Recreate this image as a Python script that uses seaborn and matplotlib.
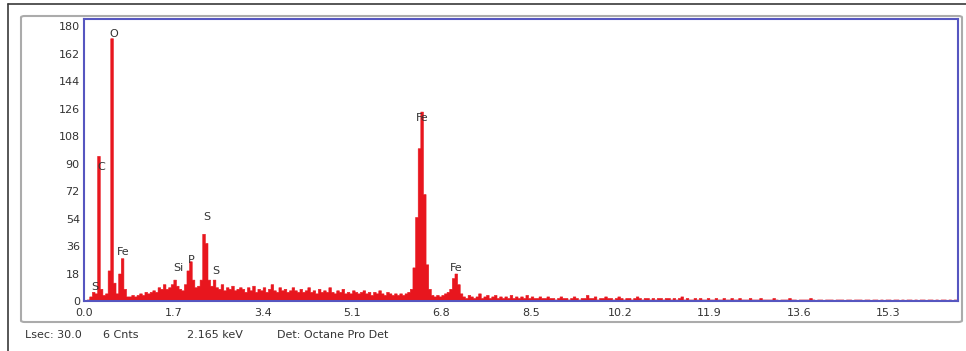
import numpy as np
import pandas as pd
import matplotlib
matplotlib.use("Agg")
import matplotlib.pyplot as plt
from matplotlib.patches import FancyBboxPatch
from matplotlib.lines import Line2D
import seaborn as sns

# EDS spectrum, counts per 0.05 keV channel (one row per keV)
channel_width = 0.05
counts = [
    0, 1, 3, 6, 5, 95, 8, 4, 5, 20, 172, 12, 5, 18, 28, 8, 3, 3, 4, 3,
    4, 5, 4, 6, 5, 6, 7, 6, 9, 8, 11, 8, 9, 11, 14, 10, 8, 7, 11, 20,
    26, 14, 9, 10, 14, 44, 38, 14, 10, 14, 9, 8, 11, 7, 9, 8, 10, 7, 8, 9,
    8, 6, 9, 7, 10, 6, 8, 7, 9, 6, 8, 11, 7, 6, 9, 7, 8, 6, 7, 9,
    7, 6, 8, 6, 7, 9, 6, 7, 5, 8, 6, 7, 6, 9, 6, 5, 7, 6, 8, 5,
    6, 5, 7, 6, 5, 6, 7, 5, 6, 4, 6, 5, 7, 5, 4, 6, 5, 4, 5, 4,
    5, 4, 5, 6, 8, 22, 55, 100, 124, 70, 24, 8, 4, 3, 4, 3, 4, 5, 6, 8,
    15, 18, 11, 5, 3, 2, 4, 3, 2, 3, 5, 2, 3, 4, 2, 3, 4, 2, 3, 2,
    3, 2, 4, 2, 3, 2, 3, 2, 4, 2, 3, 2, 2, 3, 2, 2, 3, 2, 2, 1,
    2, 3, 2, 2, 1, 2, 3, 2, 1, 2, 2, 4, 2, 2, 3, 1, 2, 2, 3, 2,
    2, 1, 2, 3, 2, 1, 2, 2, 1, 2, 3, 2, 1, 2, 2, 1, 2, 1, 2, 2,
    1, 2, 2, 1, 2, 1, 2, 3, 1, 2, 1, 1, 2, 1, 2, 1, 1, 2, 1, 1,
    2, 1, 1, 2, 1, 1, 2, 1, 1, 2, 1, 1, 1, 2, 1, 1, 1, 2, 1, 1,
    1, 1, 2, 1, 0, 1, 1, 1, 2, 1, 1, 0, 1, 1, 1, 1, 2, 1, 0, 1,
    1, 0, 1, 1, 1, 0, 1, 1, 1, 0, 1, 1, 0, 1, 1, 1, 0, 1, 1, 0,
    1, 1, 0, 1, 0, 1, 1, 0, 1, 1, 0, 1, 0, 1, 1, 0, 1, 0, 1, 1,
    0, 1, 1, 0, 1, 0, 1, 1, 0, 1, 0, 1,
]

# element labels and where they sit (keV, counts)
peak_names = ["S", "C", "O", "Fe", "Si", "P", "S", "S", "Fe", "Fe"]
label_xy = [(0.21, 9), (0.32, 88), (0.57, 175), (0.74, 32), (1.79, 21.5),
            (2.05, 27), (2.34, 55), (2.51, 19.5), (6.44, 120), (7.09, 21.5)]

x_ticks = [0.0, 1.7, 3.4, 5.1, 6.8, 8.5, 10.2, 11.9, 13.6, 15.3]
y_ticks = [0, 18, 36, 54, 72, 90, 108, 126, 144, 162, 180]
status = ["Lsec: 30.0", "6 Cnts", "2.165 keV", "Det: Octane Pro Det"]

sns.set_style("white")
plt.rcParams["font.family"] = ["DejaVu Sans"]

n = len(counts)
df = pd.DataFrame({"energy": (np.arange(n) + 0.5) * channel_width,
                   "counts": counts})

fig = plt.figure(figsize=(9.66, 3.51), dpi=100)

# grey rounded panel behind the plot
panel = FancyBboxPatch((21 / 966, 1 - 322 / 351), 941 / 966, 306 / 351,
                       boxstyle="round,pad=0,rounding_size=0.004",
                       transform=fig.transFigure, facecolor="white",
                       edgecolor="#ababab", linewidth=1.5, zorder=-5)
fig.patches.append(panel)
# cropped outer frame
fig.add_artist(Line2D([8 / 966, 1], [1 - 4 / 351] * 2, transform=fig.transFigure,
                      color="#3a3a3a", lw=1.2))
fig.add_artist(Line2D([8 / 966] * 2, [0, 1 - 4 / 351], transform=fig.transFigure,
                      color="#3a3a3a", lw=1.2))

ax = fig.add_axes([84 / 966, 1 - 301 / 351, 874 / 966, 282 / 351])
ax.set_zorder(5)
red = "#e8161e"
sns.histplot(data=df, x="energy", weights="counts", binwidth=channel_width,
             binrange=(0, n * channel_width), element="step",
             fill=True, color=red, alpha=1, linewidth=0.4, ax=ax)

ax.set_xlim(0, 874 / 52.55)
ax.set_ylim(0, 281.5 / 1.525)
ax.set_xticks(x_ticks)
ax.set_xticklabels([f"{t:.1f}" for t in x_ticks])
ax.set_yticks(y_ticks)
ax.set_xlabel("")
ax.set_ylabel("")
ax.tick_params(axis="x", length=2, width=0.8, color="#5656c0", pad=3,
               labelsize=8, labelcolor="#333333")
ax.tick_params(axis="y", length=0, pad=3, labelsize=8, labelcolor="#333333")
for sp in ax.spines.values():
    sp.set_color("#5656c0")
    sp.set_linewidth(1.5)

for name, (xe, yc) in zip(peak_names, label_xy):
    ax.text(xe, yc, name, ha="center", va="center", fontsize=8, color="#333333")

for txt, xp in zip(status, [25, 103, 187, 277]):
    fig.text(xp / 966, 1 - 335 / 351, txt, ha="left", va="center",
             fontsize=8, color="#333333")

fig.savefig("out.png", dpi=100)
